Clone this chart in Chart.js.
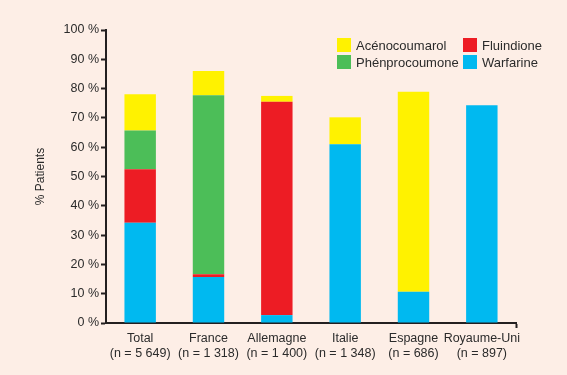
<!DOCTYPE html>
<html>
<head>
<meta charset="utf-8">
<script src="https://cdn.jsdelivr.net/npm/chart.js@4"></script>
<style>
  html, body { margin: 0; padding: 0; background: #fdeee6; }
  #wrap { position: relative; width: 567px; height: 375px; }
  #legend { position: absolute; left: 337px; top: 38px; display: grid;
    grid-template-columns: 126px auto; row-gap: 3px;
    font-family: "Liberation Sans", Arial, sans-serif; font-size: 13px; color: #2b2b2b; }
  #legend .item { display: flex; align-items: center; height: 14px; }
  #legend .box { width: 14px; height: 14px; margin-right: 5px; }
</style>
</head>
<body>
<div id="wrap">
  <canvas id="chart" width="567" height="375"></canvas>
  <div id="legend"></div>
</div>
<script>
// Pays et effectifs
const pays = ["Total", "France", "Allemagne", "Italie", "Espagne", "Royaume-Uni"];
const effectifs = ["(n = 5 649)", "(n = 1 318)", "(n = 1 400)", "(n = 1 348)", "(n = 686)", "(n = 897)"];

// % patients par molécule (empilé de bas en haut)
const warfarine = [34.2, 15.7, 2.7, 61.0, 10.7, 74.3];
const fluindione = [18.3, 0.9, 72.8, 0, 0, 0];
const phenprocoumone = [13.2, 61.1, 0, 0, 0, 0];
const acenocoumarol = [12.4, 8.3, 2.0, 9.2, 68.2, 0];

const yTicks = [0, 10, 20, 30, 40, 50, 60, 70, 80, 90, 100];

const encre = "#231f20";
const police = "'Liberation Sans', Arial, sans-serif";

const datasets = [
  { label: "Warfarine", data: warfarine, backgroundColor: "#00b9f0" },
  { label: "Fluindione", data: fluindione, backgroundColor: "#ed1c24" },
  { label: "Phénprocoumone", data: phenprocoumone, backgroundColor: "#4cbe58" },
  { label: "Acénocoumarol", data: acenocoumarol, backgroundColor: "#fff200" }
];
datasets.forEach(d => { d.barPercentage = 0.92; d.categoryPercentage = 0.5; });

// Légende en 2 colonnes, même ordre que la figure
const ordreLegende = ["Acénocoumarol", "Fluindione", "Phénprocoumone", "Warfarine"];
const legend = document.getElementById("legend");
ordreLegende.forEach(nom => {
  const ds = datasets.find(d => d.label === nom);
  const el = document.createElement("div");
  el.className = "item";
  el.innerHTML = '<span class="box" style="background:' + ds.backgroundColor + '"></span>' + nom;
  legend.appendChild(el);
});

new Chart(document.getElementById("chart"), {
  type: "bar",
  data: {
    labels: pays.map((p, i) => [p, effectifs[i]]),
    datasets: datasets
  },
  options: {
    responsive: false,
    animation: false,
    layout: { padding: { top: 30, right: 51, left: 0, bottom: 0 } },
    plugins: { legend: { display: false }, tooltip: { enabled: false } },
    scales: {
      x: {
        stacked: true,
        border: { color: encre, width: 2 },
        grid: {
          drawOnChartArea: false,
          tickLength: 5,
          tickWidth: 2,
          tickColor: ctx => ctx.tick ? "transparent" : encre
        },
        ticks: {
          color: "#2b2b2b",
          font: { family: police, size: 12.5 },
          padding: 3,
          maxRotation: 0,
          autoSkip: false
        },
        afterFit: s => { s.height = 52; }
      },
      y: {
        stacked: true,
        min: 0,
        max: 100,
        afterBuildTicks: s => { s.ticks = yTicks.map(v => ({ value: v })); },
        border: { color: encre, width: 2 },
        grid: { drawOnChartArea: false, tickLength: 5, tickWidth: 2, tickColor: encre },
        ticks: {
          color: "#2b2b2b",
          font: { family: police, size: 12.5 },
          padding: 2,
          callback: v => v + " %"
        },
        title: {
          display: true,
          text: "% Patients",
          color: "#2b2b2b",
          font: { family: police, size: 12 },
          padding: { top: 33, bottom: 0 }
        },
        afterFit: s => { s.width = 106; }
      }
    }
  }
});
</script>
</body>
</html>
